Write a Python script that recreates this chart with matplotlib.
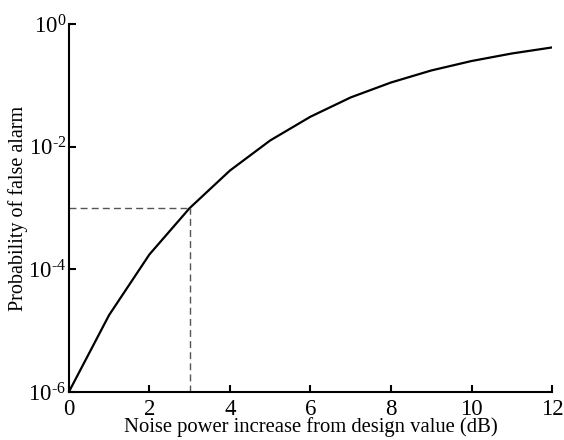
import matplotlib
matplotlib.use("Agg")
import matplotlib.pyplot as plt

# Noise power increase above the design value (dB)
noise_increase_db = [0, 1, 2, 3, 4, 5, 6, 7, 8, 9, 10, 11, 12]
# Resulting probability of false alarm
pfa = [1e-6, 1.8e-5, 1.75e-4, 1.0e-3, 4.1e-3, 1.27e-2, 3.1e-2,
       6.4e-2, 0.112, 0.176, 0.251, 0.333, 0.418]

# Operating point marked by the dashed guide
mark_x = 3
mark_y = 1e-3

x_ticks = [0, 2, 4, 6, 8, 10, 12]
y_ticks = [1e-6, 1e-4, 1e-2, 1e0]
y_ticklabels = [r"$\mathregular{10^{\text{-}6}}$", r"$\mathregular{10^{\text{-}4}}$",
                r"$\mathregular{10^{\text{-}2}}$", r"$\mathregular{10^{0}}$"]

plt.rcParams["font.family"] = ["Liberation Serif", "DejaVu Serif"]
plt.rcParams["mathtext.fontset"] = "custom"
plt.rcParams["mathtext.rm"] = "Liberation Serif"
plt.rcParams["mathtext.it"] = "Liberation Serif:italic"
plt.rcParams["mathtext.bf"] = "Liberation Serif:bold"

fig = plt.figure(figsize=(5.64, 4.40), dpi=100)
ax = fig.add_axes([0.122, 0.109, 0.857, 0.836])

ax.plot(noise_increase_db, pfa, color="black", lw=1.6)
ax.plot([0, mark_x], [mark_y, mark_y], color="#555555", lw=1.0, ls=(0, (5, 3)))
ax.plot([mark_x, mark_x], [1e-6, mark_y], color="#555555", lw=1.0, ls=(0, (5, 3)))

ax.set_yscale("log")
ax.set_xlim(0, 12)
ax.set_ylim(1e-6, 1e0)
ax.set_xticks(x_ticks)
ax.set_xticklabels([str(t) for t in x_ticks])
ax.set_yticks(y_ticks)
ax.set_yticklabels(y_ticklabels)
ax.minorticks_off()

for side in ("top", "right"):
    ax.spines[side].set_visible(False)
for side in ("left", "bottom"):
    ax.spines[side].set_linewidth(1.5)

ax.tick_params(direction="in", length=5, width=1.5, labelsize=16.5)
ax.tick_params(axis="x", pad=5)
ax.tick_params(axis="y", pad=2)

ax.set_xlabel("Noise power increase from design value (dB)", fontsize=14.9, labelpad=-2)
ax.set_ylabel("Probability of false alarm", fontsize=14.5, labelpad=0)

fig.savefig("out.png", dpi=100)
